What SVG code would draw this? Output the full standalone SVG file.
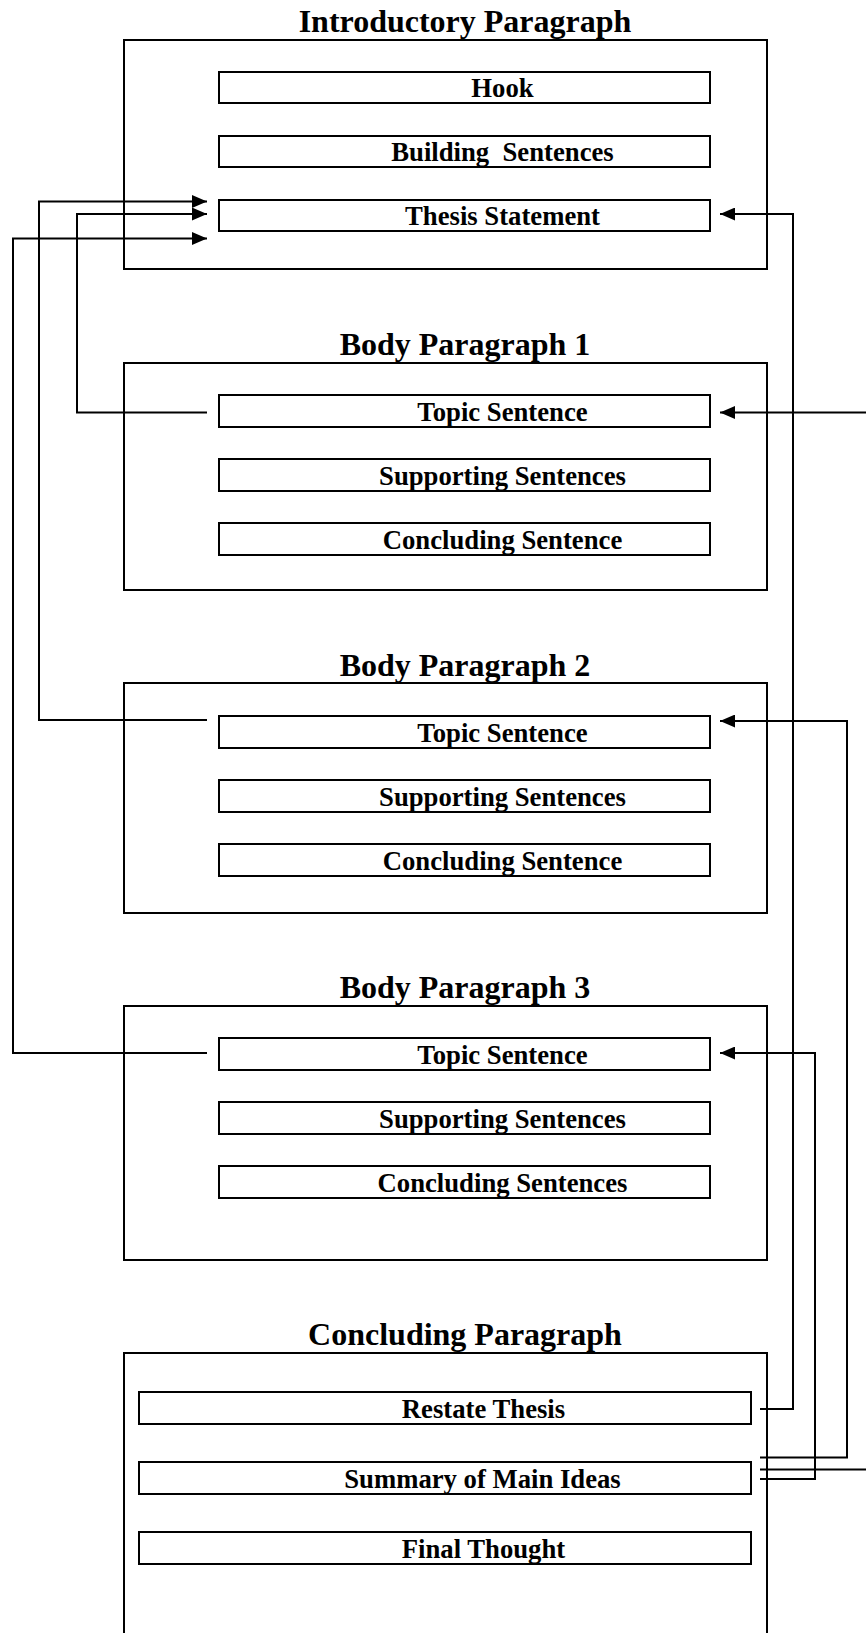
<svg xmlns="http://www.w3.org/2000/svg" width="866" height="1633" viewBox="0 0 866 1633">
<style>
.box{fill:none;stroke:#000;stroke-width:2}
.item{fill:#fff;stroke:#000;stroke-width:2}
.title{font-family:"Liberation Serif","Times New Roman",serif;font-weight:bold;font-size:32px;text-anchor:middle;fill:#000}
.lbl{font-family:"Liberation Serif","Times New Roman",serif;font-weight:bold;font-size:26.7px;text-anchor:middle;fill:#000}
.conn{fill:none;stroke:#000;stroke-width:2}
</style>
<defs>
<marker id="ah" markerUnits="userSpaceOnUse" markerWidth="15" markerHeight="13" refX="15" refY="6.5" orient="auto">
<path d="M0,0 L15,6.5 L0,13 z" fill="#000"/>
</marker>
</defs>
<rect width="866" height="1633" fill="#fff"/>

<g id="intro">
<text class="title" x="465" y="32">Introductory Paragraph</text>
<rect class="box" x="124" y="40" width="643" height="229"/>
<g id="hook"><rect class="item" x="219" y="72" width="491" height="31"/><text class="lbl" x="502.5" y="97">Hook</text></g>
<g id="building"><rect class="item" x="219" y="136" width="491" height="31"/><text class="lbl" x="502.5" y="161" xml:space="preserve">Building  Sentences</text></g>
<g id="thesis"><rect class="item" x="219" y="200" width="491" height="31"/><text class="lbl" x="502.5" y="225">Thesis Statement</text></g>
</g>

<g id="body1">
<text class="title" x="465" y="355">Body Paragraph 1</text>
<rect class="box" x="124" y="363" width="643" height="227"/>
<g id="b1-topic"><rect class="item" x="219" y="395" width="491" height="32"/><text class="lbl" x="502.5" y="420.5">Topic Sentence</text></g>
<g id="b1-support"><rect class="item" x="219" y="459" width="491" height="32"/><text class="lbl" x="502.5" y="484.5">Supporting Sentences</text></g>
<g id="b1-conc"><rect class="item" x="219" y="523" width="491" height="32"/><text class="lbl" x="502.5" y="548.5">Concluding Sentence</text></g>
</g>

<g id="body2">
<text class="title" x="465" y="676">Body Paragraph 2</text>
<rect class="box" x="124" y="683" width="643" height="230"/>
<g id="b2-topic"><rect class="item" x="219" y="716" width="491" height="32"/><text class="lbl" x="502.5" y="741.5">Topic Sentence</text></g>
<g id="b2-support"><rect class="item" x="219" y="780" width="491" height="32"/><text class="lbl" x="502.5" y="805.5">Supporting Sentences</text></g>
<g id="b2-conc"><rect class="item" x="219" y="844" width="491" height="32"/><text class="lbl" x="502.5" y="869.5">Concluding Sentence</text></g>
</g>

<g id="body3">
<text class="title" x="465" y="998">Body Paragraph 3</text>
<rect class="box" x="124" y="1006" width="643" height="254"/>
<g id="b3-topic"><rect class="item" x="219" y="1038" width="491" height="32"/><text class="lbl" x="502.5" y="1063.5">Topic Sentence</text></g>
<g id="b3-support"><rect class="item" x="219" y="1102" width="491" height="32"/><text class="lbl" x="502.5" y="1127.5">Supporting Sentences</text></g>
<g id="b3-conc"><rect class="item" x="219" y="1166" width="491" height="32"/><text class="lbl" x="502.5" y="1191.5">Concluding Sentences</text></g>
</g>

<g id="conclusion">
<text class="title" x="465" y="1345">Concluding Paragraph</text>
<rect class="box" x="124" y="1353" width="643" height="300"/>
<g id="restate"><rect class="item" x="139" y="1392" width="612" height="32"/><text class="lbl" x="483.5" y="1417.5">Restate Thesis</text></g>
<g id="summary"><rect class="item" x="139" y="1462" width="612" height="32"/><text class="lbl" x="482.5" y="1487.5">Summary of Main Ideas</text></g>
<g id="final"><rect class="item" x="139" y="1532" width="612" height="32"/><text class="lbl" x="483.5" y="1557.5">Final Thought</text></g>
</g>

<g id="connectors">
<path class="conn" d="M207,412.5 H77 V214 H207" marker-end="url(#ah)"/>
<path class="conn" d="M207,720 H39 V201.5 H207" marker-end="url(#ah)"/>
<path class="conn" d="M207,1053 H13 V238.5 H207" marker-end="url(#ah)"/>
<path class="conn" d="M760,1409 H793 V214 H720" marker-end="url(#ah)"/>
<path class="conn" d="M760,1457.5 H847 V721 H720" marker-end="url(#ah)"/>
<path class="conn" d="M760,1469.5 H880 V412.5 H720" marker-end="url(#ah)"/>
<path class="conn" d="M760,1479 H815 V1053 H720" marker-end="url(#ah)"/>
</g>
</svg>
